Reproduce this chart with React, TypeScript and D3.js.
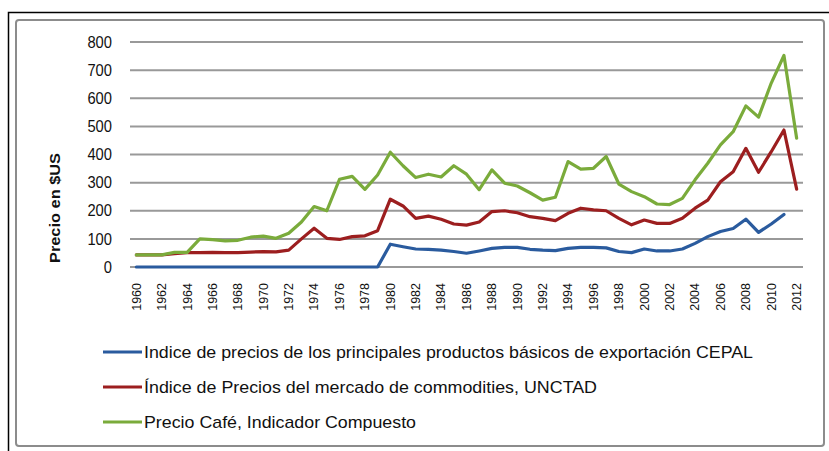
import React from "react";
import * as d3 from "d3";

const years: number[] = d3.range(1960, 2013);
const yTicks: number[] = [0, 100, 200, 300, 400, 500, 600, 700, 800];
const xTickLabels: number[] = years.filter((y) => (y - 1960) % 2 === 0);

const cepal: (number | null)[] = [
  0, 0, 0, 0, 0, 0, 0, 0, 0, 0,
  0, 0, 0, 0, 0, 0, 0, 0, 0, 0,
  81, 72, 64, 63, 60, 55, 49, 57, 66, 70,
  70, 63, 60, 58, 66, 70, 70, 68, 55, 51,
  64, 57, 57, 64, 84, 108, 126, 137, 170, 123,
  153, 187, null,
];

const unctad: number[] = [
  43, 43, 43, 47, 51, 51, 52, 51, 51, 53,
  55, 54, 60, 100, 138, 102, 98, 108, 111, 129,
  241, 217, 173, 181, 170, 153, 149, 160, 197, 200,
  193, 179, 173, 165, 191, 209, 203, 200, 173, 150,
  167, 155, 155, 173, 209, 238, 303, 339, 422, 337,
  410, 487, 277,
];

const cafe: number[] = [
  43, 43, 43, 52, 52, 100, 97, 93, 95, 106,
  110, 102, 120, 160, 215, 200, 312, 322, 276, 327,
  408, 360, 318, 330, 320, 360, 330, 275, 345, 298,
  288, 264, 238, 248, 375, 348, 351, 393, 295, 268,
  250, 224, 222, 244, 310, 369, 434, 481, 573, 533,
  654, 752, 458,
];

const seriesNames: string[] = [
  "Indice de precios de los principales productos básicos de exportación CEPAL",
  "Índice de Precios del mercado de commodities, UNCTAD",
  "Precio Café, Indicador Compuesto",
];
const seriesColors: string[] = ["#2a5b9e", "#9c1e1f", "#7aab3b"];
const seriesData = [cepal, unctad, cafe];
const legendWidths: number[] = [609, 453, 272];

export default function App() {
  const W = 829;
  const H = 451;
  const x = d3.scaleBand<number>().domain(years).range([130, 803]).padding(0);
  const cx = (yr: number) => (x(yr) as number) + x.bandwidth() / 2;
  const y = d3.scaleLinear().domain([0, 800]).range([267, 42]);

  const line = d3
    .line<number | null>()
    .defined((d) => d != null)
    .x((_d, i) => cx(years[i]))
    .y((d) => y(d as number));

  const font = "'Liberation Sans', Arial, sans-serif";

  return (
    <svg
      width={W}
      height={H}
      style={{ position: "absolute", left: 0, top: 0, background: "#fff" }}
      fontFamily={font}
    >
      <rect x={0} y={0} width={W} height={H} fill="#fff" />
      {/* outer frame */}
      <rect x={8.5} y={12.5} width={W + 10} height={H + 10} fill="none" stroke="#000" strokeWidth={1.5} />
      {/* inner frame */}
      <rect x={16} y={20} width={808} height={426} rx={3} fill="none" stroke="#8c8c8c" strokeWidth={2} />

      {/* gridlines */}
      {yTicks.map((t) => (
        <line key={t} x1={130} x2={803} y1={y(t)} y2={y(t)} stroke="#999" strokeWidth={2} />
      ))}

      {/* y tick labels */}
      {yTicks.map((t) => (
        <text
          key={t}
          x={112}
          y={y(t)}
          dy="0.36em"
          textAnchor="end"
          fontSize={16}
          fill="#111"
          transform={`translate(${112 * 0.08},0) scale(0.92,1)`}
        >
          {t}
        </text>
      ))}

      {/* y title */}
      <text
        transform={`translate(60,208) rotate(-90)`}
        textAnchor="middle"
        fontSize={14.5}
        fontWeight="bold"
        fill="#111"
        textLength={110}
        lengthAdjust="spacingAndGlyphs"
      >
        Precio en $US
      </text>

      {/* x tick labels */}
      {xTickLabels.map((yr) => (
        <text
          key={yr}
          transform={`translate(${cx(yr)},283) rotate(-90)`}
          textAnchor="end"
          dy="0.35em"
          fontSize={12.5}
          fill="#111"
        >
          {yr}
        </text>
      ))}

      {/* series */}
      {seriesData.map((s, i) => (
        <path
          key={i}
          d={line(s) || ""}
          fill="none"
          stroke={seriesColors[i]}
          strokeWidth={3.2}
          strokeLinejoin="round"
          strokeLinecap="round"
        />
      ))}

      {/* legend */}
      {seriesNames.map((name, i) => {
        const ly = 352 + i * 35;
        return (
          <g key={i}>
            <line x1={103} x2={142} y1={ly} y2={ly} stroke={seriesColors[i]} strokeWidth={3.2} />
            <text
              x={144}
              y={ly}
              dy="0.36em"
              fontSize={17}
              fill="#111"
              textLength={legendWidths[i]}
              lengthAdjust="spacingAndGlyphs"
            >
              {name}
            </text>
          </g>
        );
      })}
    </svg>
  );
}
